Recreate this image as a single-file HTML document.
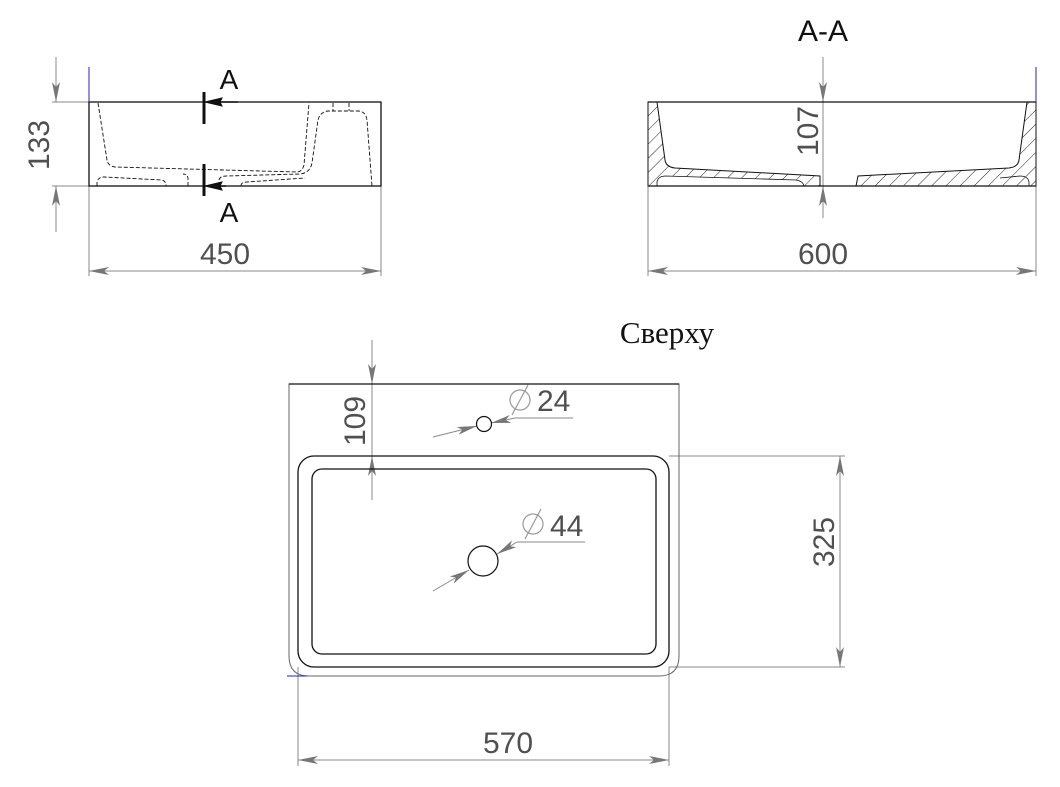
<!DOCTYPE html>
<html><head><meta charset="utf-8"><style>
html,body{margin:0;padding:0;background:#fff}
svg{display:block}
text{font-family:"Liberation Sans",sans-serif;fill:#505050}
</style></head><body>
<svg width="1060" height="787" viewBox="0 0 1060 787" xmlns="http://www.w3.org/2000/svg">
<defs>
<marker id="ar" viewBox="0 0 20 8" refX="20" refY="4" markerWidth="20" markerHeight="8" markerUnits="userSpaceOnUse" orient="auto-start-reverse"><path d="M0,0 L20,4 L0,8 L5,4z" fill="#777"/></marker>
<pattern id="h" width="10" height="10" patternUnits="userSpaceOnUse" patternTransform="rotate(45)"><line x1="0" y1="0" x2="0" y2="10" stroke="#222" stroke-width="1"/></pattern>
</defs>
<g fill="none" stroke="#888" stroke-width="1">
<line x1="52" y1="102" x2="89" y2="102"/><line x1="52" y1="186" x2="89" y2="186"/>
<line x1="56" y1="57" x2="56" y2="102" marker-end="url(#ar)"/>
<line x1="56" y1="232" x2="56" y2="186" marker-end="url(#ar)"/>
<line x1="89" y1="186" x2="89" y2="276"/><line x1="381" y1="186" x2="381" y2="276"/>
<line x1="89" y1="271" x2="381" y2="271" marker-start="url(#ar)" marker-end="url(#ar)"/>
<line x1="823" y1="57" x2="823" y2="102" marker-end="url(#ar)"/>
<line x1="823" y1="218" x2="823" y2="186" marker-end="url(#ar)"/>
<line x1="823" y1="102" x2="823" y2="186"/>
<line x1="648" y1="186" x2="648" y2="276"/><line x1="1036" y1="186" x2="1036" y2="276"/>
<line x1="648" y1="271" x2="1036" y2="271" marker-start="url(#ar)" marker-end="url(#ar)"/>
<line x1="372" y1="340" x2="372" y2="384" marker-end="url(#ar)"/>
<line x1="372" y1="500" x2="372" y2="456" marker-end="url(#ar)"/>
<line x1="372" y1="384" x2="372" y2="456"/>
<line x1="669" y1="456" x2="845" y2="456"/><line x1="669" y1="667" x2="845" y2="667"/>
<line x1="840" y1="456" x2="840" y2="667" marker-start="url(#ar)" marker-end="url(#ar)"/>
<line x1="298" y1="667" x2="298" y2="766"/><line x1="669" y1="667" x2="669" y2="766"/>
<line x1="298" y1="760" x2="669" y2="760" marker-start="url(#ar)" marker-end="url(#ar)"/>
<line x1="433" y1="437" x2="477" y2="426" marker-end="url(#ar)"/>
<line x1="573" y1="418" x2="515" y2="418"/><line x1="515" y1="418" x2="491" y2="423" marker-end="url(#ar)"/>
<line x1="433" y1="591" x2="469" y2="570" marker-end="url(#ar)"/>
<line x1="585" y1="542" x2="517" y2="542"/><line x1="517" y1="542" x2="497" y2="554" marker-end="url(#ar)"/>
</g>
<g fill="none" stroke="#111">
<rect x="89" y="102" width="292" height="84" stroke-width="1.3"/>
<g stroke-dasharray="4,2" stroke-width="0.9">
<path d="M98,103 L107,160 Q108,166 115,167 L297,172 Q302,172 304,165 L309,103"/>
<path d="M97,186 L97,182 Q98,177 104,177 L162,180 Q166,181 166,186"/>
<path d="M188,186 L188,178 Q187,174 183,174"/>
<path d="M219,186 L219,180 Q220,176 226,176 L300,174 Q310,173 312,163 L318,120 Q320,112 328,111 L359,111 Q366,112 367,120 L372,186"/>
<path d="M241,186 Q241,182 247,182 L305,178"/>
<path d="M333,103 L333,111 M349,103 L349,111"/>
</g>
<line x1="204" y1="92" x2="204" y2="124" stroke-width="3"/>
<line x1="204" y1="164" x2="204" y2="196" stroke-width="3"/>
<line x1="238" y1="102" x2="216" y2="102" stroke-width="1.5"/>
<path d="M205,102 L222,98 L220,102 L222,106z" fill="#111"/>
<line x1="226" y1="186" x2="216" y2="186" stroke-width="1.5"/>
<path d="M205,186 L222,182 L220,186 L222,190z" fill="#111"/>
</g>
<line x1="89" y1="67" x2="89" y2="102" stroke="#22c" stroke-width="1"/>
<g stroke="#111">
<path d="M648,186 L648,102 L657,102 L665,160 Q666,167 675,168 L820,176 L820,186 Z" fill="url(#h)" stroke-width="1"/>
<path d="M1036,186 L1036,102 L1027,102 L1019,160 Q1018,167 1009,168 L858,176 L856,186 Z" fill="url(#h)" stroke-width="1"/>
<path d="M657,186 L657,182 Q658,176 666,176 L796,180 Q803,181 804,186" fill="#fff" stroke-width="0.8"/>
<path d="M1029,186 L1029,182 Q1028,176 1020,176 L1000,178" fill="none" stroke-width="0.8"/>
<line x1="648" y1="102" x2="1036" y2="102" stroke-width="1.3"/>
<line x1="648" y1="186" x2="1036" y2="186" stroke-width="1.3"/>
</g>
<line x1="1036" y1="67" x2="1036" y2="102" stroke="#22c"/>
<g fill="none" stroke="#111">
<path d="M289,384 L679,384 L679,656 Q679,676 659,676 L309,676 Q289,676 289,656 Z" stroke="#666" stroke-width="1"/>
<line x1="289" y1="384" x2="679" y2="384" stroke-width="1.3"/>
<rect x="298" y="456" width="371" height="211" rx="16" stroke-width="1.3"/>
<rect x="312" y="469" width="344" height="185" rx="10" stroke-width="1.3"/>
<circle cx="484" cy="424" r="7.5" stroke-width="1.2"/>
<circle cx="483" cy="561" r="15" stroke-width="1.2"/>
</g>
<line x1="287" y1="676" x2="307" y2="676" stroke="#22c"/>
<text x="225" y="264" font-size="30" text-anchor="middle">450</text>
<text x="823" y="264" font-size="30" text-anchor="middle">600</text>
<text x="508" y="753" font-size="30" text-anchor="middle">570</text>
<text transform="translate(49,145) rotate(-90)" font-size="30" text-anchor="middle">133</text>
<text transform="translate(818,131) rotate(-90)" font-size="30" text-anchor="middle">107</text>
<text transform="translate(365,421) rotate(-90)" font-size="30" text-anchor="middle">109</text>
<text transform="translate(834,542) rotate(-90)" font-size="30" text-anchor="middle">325</text>
<text x="537" y="411" font-size="30">24</text>
<text x="550" y="536" font-size="30">44</text>
<g stroke="#999" fill="none" stroke-width="1.2"><circle cx="520" cy="400" r="10"/><line x1="512" y1="415" x2="528" y2="385"/><circle cx="533" cy="524" r="10"/><line x1="525" y1="539" x2="541" y2="509"/></g>
<text x="229" y="89" font-size="28" text-anchor="middle" style="fill:#111">A</text>
<text x="229" y="222" font-size="28" text-anchor="middle" style="fill:#111">A</text>
<text x="823" y="41" font-size="30" text-anchor="middle" style="fill:#111">A-A</text>
<text x="667" y="343" font-size="31" text-anchor="middle" style="fill:#111;font-family:'Liberation Serif',serif">Сверху</text>
</svg>
</body></html>
